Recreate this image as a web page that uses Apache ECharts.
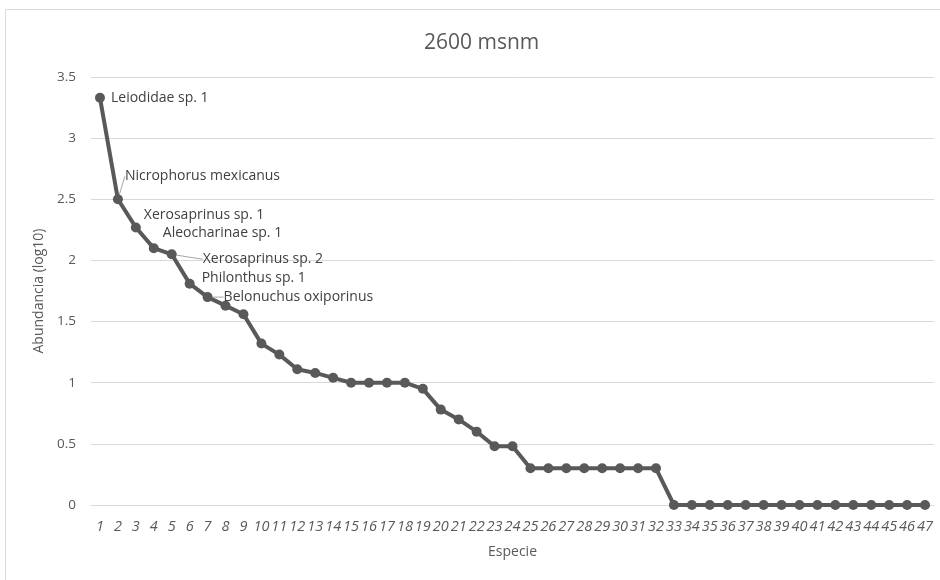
<!DOCTYPE html>
<html>
<head>
<meta charset="utf-8">
<script src="https://cdn.jsdelivr.net/npm/echarts@6/dist/echarts.min.js"></script>
<style>
  html, body { margin: 0; padding: 0; background: #ffffff; }
  #chart { width: 940px; height: 580px; }
</style>
</head>
<body>
<div id="chart"></div>
<script>
// Species rank (1..47) on the category axis
const especies = ['1','2','3','4','5','6','7','8','9','10','11','12','13','14','15','16',
  '17','18','19','20','21','22','23','24','25','26','27','28','29','30','31','32','33',
  '34','35','36','37','38','39','40','41','42','43','44','45','46','47'];

// log10 abundance per species, ranked from most to least abundant
const abundancia = [3.33, 2.50, 2.27, 2.10, 2.05, 1.81, 1.70, 1.63, 1.56, 1.32, 1.23, 1.11,
  1.08, 1.04, 1.00, 1.00, 1.00, 1.00, 0.95, 0.78, 0.70, 0.60, 0.48, 0.48,
  0.30, 0.30, 0.30, 0.30, 0.30, 0.30, 0.30, 0.30,
  0, 0, 0, 0, 0, 0, 0, 0, 0, 0, 0, 0, 0, 0, 0];

// Names of the dominant species (labelled on the curve)
const nombres = ['Leiodidae sp. 1', 'Nicrophorus mexicanus', 'Xerosaprinus sp. 1',
  'Aleocharinae sp. 1', 'Xerosaprinus sp. 2', 'Philonthus sp. 1', 'Belonuchus oxiporinus'];

const yTicks = { min: 0, max: 3.5, step: 0.5 };

// Label placement: shift from the default right-hand position, and whether a leader line is drawn
const labelShift = [
  { dx: 1,  dy: 0,   guide: false },
  { dx: -3, dy: -23, guide: true },
  { dx: -2, dy: -12, guide: false },
  { dx: -1, dy: -15, guide: false },
  { dx: 21, dy: 5,   guide: true },
  { dx: 2,  dy: -6,  guide: false },
  { dx: 6,  dy: 0,   guide: true }
];

const FONT = 'Open Sans';
const GRAY = '#595959';

const seriesData = abundancia.map(function (v, i) {
  const item = { value: v };
  if (i < nombres.length) {
    item.label = { show: true, formatter: nombres[i] };
    item.labelLine = { show: labelShift[i].guide };
  }
  return item;
});

const chart = echarts.init(document.getElementById('chart'), null, { renderer: 'canvas' });

chart.setOption({
  backgroundColor: '#ffffff',
  animation: false,
  textStyle: { fontFamily: FONT },
  title: {
    text: '2600 msnm',
    left: 419,
    top: 28,
    textStyle: { fontFamily: FONT, fontSize: 21, fontWeight: 'normal', color: GRAY }
  },
  graphic: [{
    type: 'rect',
    shape: { x: 5.5, y: 9.5, width: 1000, height: 1000 },
    style: { fill: 'none', stroke: '#d9d9d9', lineWidth: 1 },
    silent: true
  }],
  grid: { left: 91, right: 6, top: 77, bottom: 75, containLabel: false },
  xAxis: {
    type: 'category',
    data: especies,
    boundaryGap: true,
    name: 'Especie',
    nameLocation: 'middle',
    nameGap: 40,
    nameTextStyle: { fontFamily: FONT, fontSize: 14, color: GRAY },
    axisLine: { show: true, lineStyle: { color: '#d9d9d9', width: 1 } },
    axisTick: { show: false },
    axisLabel: {
      interval: 0, margin: 14, fontFamily: FONT, fontSize: 14.5, fontStyle: 'italic', color: GRAY
    },
    splitLine: { show: false }
  },
  yAxis: {
    type: 'value',
    min: yTicks.min,
    max: yTicks.max,
    interval: yTicks.step,
    name: 'Abundancia (log10)',
    nameLocation: 'middle',
    nameGap: 40,
    nameTextStyle: { fontFamily: FONT, fontSize: 14, color: GRAY },
    axisLine: { show: false },
    axisTick: { show: false },
    axisLabel: { margin: 15, fontFamily: FONT, fontSize: 13.5, color: GRAY },
    splitLine: { show: true, lineStyle: { color: '#d9d9d9', width: 1 } }
  },
  series: [{
    type: 'line',
    data: seriesData,
    symbol: 'circle',
    symbolSize: 10,
    showAllSymbol: true,
    lineStyle: { color: GRAY, width: 4 },
    itemStyle: { color: GRAY },
    label: {
      show: false,
      position: 'right',
      distance: 5,
      fontFamily: FONT,
      fontSize: 14,
      color: '#404040'
    },
    labelLine: { show: false, lineStyle: { color: '#a6a6a6', width: 1 } },
    labelLayout: function (params) {
      const s = labelShift[params.dataIndex];
      return s ? { dx: s.dx, dy: s.dy } : {};
    }
  }]
});
</script>
</body>
</html>
